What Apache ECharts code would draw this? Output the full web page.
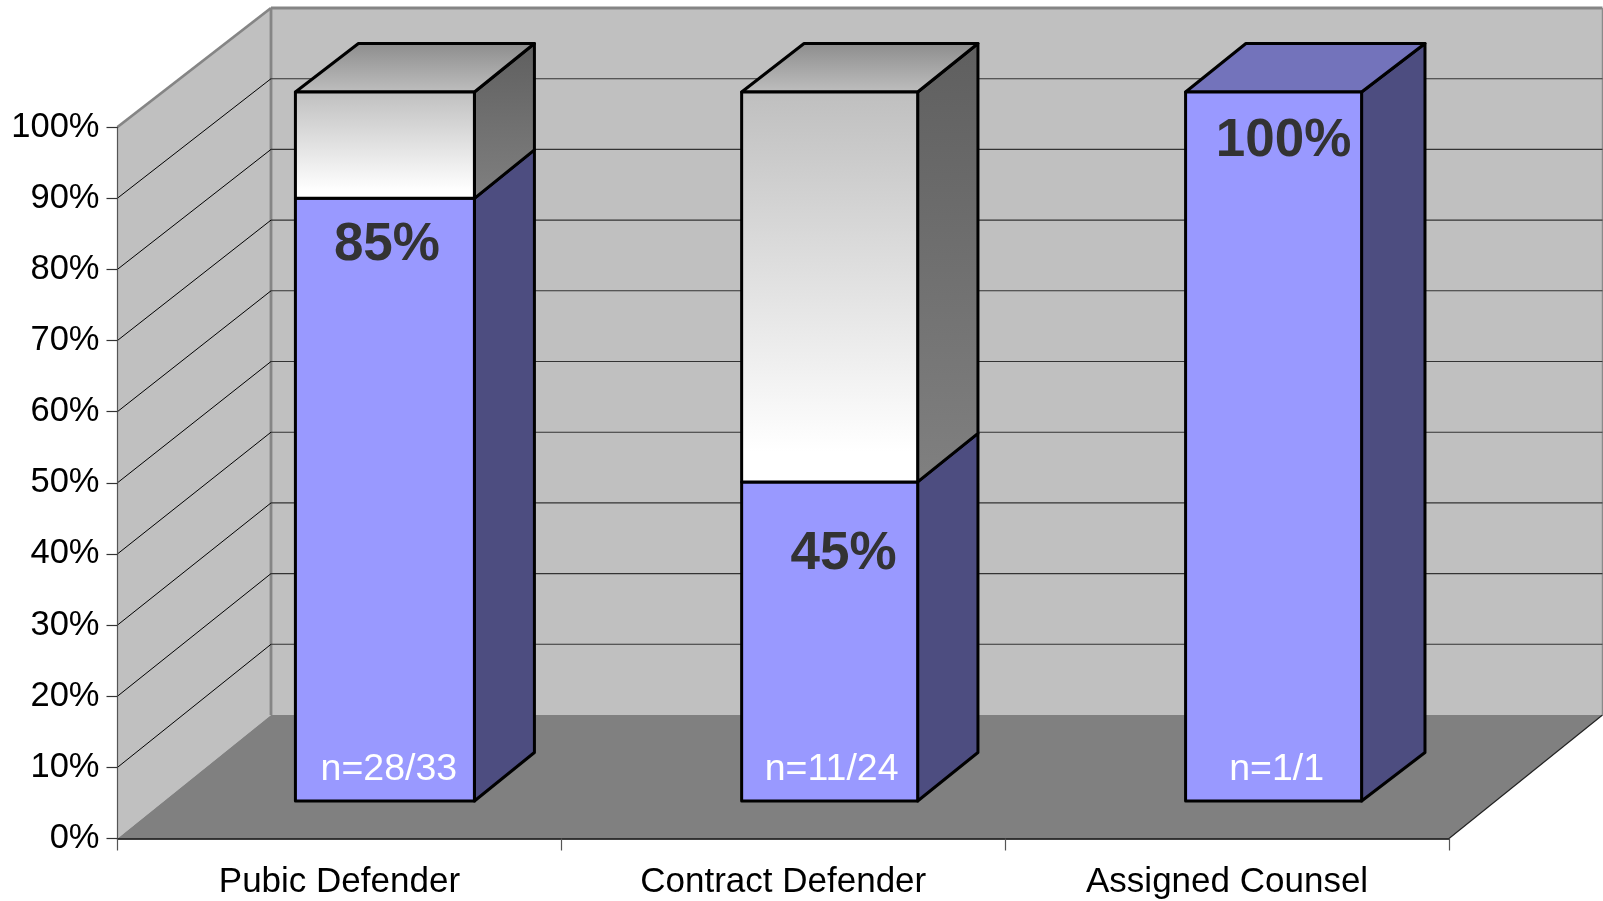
<!DOCTYPE html>
<html><head><meta charset="utf-8">
<style>html,body{margin:0;padding:0;background:#fff}#c{width:1603px;height:901px}</style>
<script src="https://cdn.jsdelivr.net/npm/echarts@6/dist/echarts.min.js"></script>
</head><body><div id="c"></div>
<script>
const categories = ['Pubic Defender', 'Contract Defender', 'Assigned Counsel'];
const metValues = [85, 45, 100];
const restValues = [15, 55, 0];
const percentLabels = ['85%', '45%', '100%'];
const countLabels = ['n=28/33', 'n=11/24', 'n=1/1'];
const gridValues = [10, 20, 30, 40, 50, 60, 70, 80, 90];

// Styling and 3D projection constants (pixels)
const FONT = '"Liberation Sans", Arial, sans-serif';
const WALL_DX = 153.5, WALL_DY = -123.5, WALL_SCALE = 707 / 711.5;
const BAR_DY = -48.5, BAR_LIFT = -37.5, BAR_SCALE = 709 / 711.5;
const BAR_LEFT = [-44, -41.6, -41.5], BAR_W = [179, 176, 176];
const BAR_BACK_L = [63, 62.4, 60.3], BAR_BACK_R = [60, 60.3, 63.4];
const PCT_OFF = [[2, 47.5], [14, 72.5], [10, 49.5]];
const CNT_OFF = [4, 2, 3];

const c = echarts.init(document.getElementById('c'));

function grad(stops) {
  return new echarts.graphic.LinearGradient(0, 0, 0, 1,
    stops.map(s => ({ offset: s[0], color: s[1] })));
}
function poly(points, fill, stroke, lw, z2) {
  return { type: 'polygon', shape: { points }, z2: z2 || 0,
    style: { fill: fill, stroke: stroke || null, lineWidth: lw || 0, lineJoin: 'round' } };
}
function seg(a, b, stroke, lw, z2) {
  return { type: 'line', shape: { x1: a[0], y1: a[1], x2: b[0], y2: b[1] }, z2: z2 || 0,
    style: { stroke, lineWidth: lw, fill: null } };
}
function barFace(api, i, lo, hi) {
  const y0 = api.coord([i, 0])[1];
  const ct = api.coord([i, 0])[0];
  const toY = v => y0 + BAR_LIFT + (api.coord([i, v])[1] - y0) * BAR_SCALE;
  const l = ct + BAR_LEFT[i], r = l + BAR_W[i];
  return { l, r, yLo: toY(lo), yHi: toY(hi) };
}
function renderSegment(fills, topIfFull) {
  return function (params, api) {
    const i = api.value(0), base = api.value(1), val = api.value(2);
    if (!val) return { type: 'group', children: [] };
    const b = barFace(api, i, base, base + val);
    const rb = b.r + BAR_BACK_R[i], lb = b.l + BAR_BACK_L[i];
    const ch = [];
    ch.push(poly([[b.r, b.yHi], [rb, b.yHi + BAR_DY], [rb, b.yLo + BAR_DY], [b.r, b.yLo]], fills.side, '#000', 3));
    if (topIfFull(base + val)) {
      ch.push(poly([[b.l, b.yHi], [b.r, b.yHi], [rb, b.yHi + BAR_DY], [lb, b.yHi + BAR_DY]], fills.top, '#000', 3));
    }
    ch.push(poly([[b.l, b.yLo], [b.r, b.yLo], [b.r, b.yHi], [b.l, b.yHi]], fills.front, '#000', 3));
    if (fills.labels) {
      const mid = b.l + BAR_W[i] / 2;
      ch.push({ type: 'text', z2: 5, x: mid + PCT_OFF[i][0], y: b.yHi + PCT_OFF[i][1], style: {
        text: percentLabels[i], fill: '#333333', font: 'bold 53px ' + FONT, align: 'center', verticalAlign: 'middle' } });
      ch.push({ type: 'text', z2: 5, x: mid + CNT_OFF[i], y: b.yLo - 31, style: {
        text: countLabels[i], fill: '#ffffff', font: '37.5px ' + FONT, align: 'center', verticalAlign: 'middle' } });
    }
    return { type: 'group', children: ch };
  };
}

c.setOption({
  animation: false,
  backgroundColor: '#ffffff',
  grid: { left: 117.5, right: 154, top: 127, bottom: 62.5, containLabel: false },
  xAxis: {
    type: 'category', data: categories, z: 5,
    axisLine: { show: true, lineStyle: { color: '#000', width: 1.5 } },
    axisTick: { show: true, alignWithLabel: false, length: 12, lineStyle: { color: '#555', width: 1.2 } },
    axisLabel: { color: '#000', fontFamily: 'Liberation Sans', fontSize: 35, margin: 26, interval: 0 },
    splitLine: { show: false }
  },
  yAxis: {
    type: 'value', min: 0, max: 100, interval: 10, z: 5,
    axisLine: { show: true, lineStyle: { color: '#555', width: 1.2 } },
    axisTick: { show: true, length: 11, lineStyle: { color: '#333', width: 1.2 } },
    axisLabel: { color: '#000', fontFamily: 'Liberation Sans', fontSize: 34.5, margin: 18, padding: [3, 0, 0, 0], formatter: '{value}%' },
    splitLine: { show: false }
  },
  series: [
    { // walls, floor
      type: 'custom', name: 'Walls', z: 1, silent: true, clip: false,
      data: [[0]],
      encode: { x: -1, y: -1 },
      renderItem(params, api) {
        const s = params.coordSys;
        const x0 = s.x, x1 = s.x + s.width, yB = s.y + s.height;
        const back = v => yB + WALL_DY + (api.coord([0, v])[1] - yB) * WALL_SCALE;
        const bx0 = x0 + WALL_DX, bx1 = x1 + WALL_DX;
        const children = [
          poly([[bx0, back(0)], [bx1, back(0)], [bx1, back(100)], [bx0, back(100)]], '#c0c0c0'),
          poly([[x0, yB], [bx0, back(0)], [bx0, back(100)], [x0, s.y]], '#c0c0c0'),
          poly([[x0, yB], [bx0, back(0)], [bx1, back(0)], [x1, yB]], '#808080'),
          seg([x1, yB], [bx1, back(0)], '#222', 1.2),
          seg([bx0, back(0)], [bx0, back(100)], '#858585', 2.8),
          seg([bx0, back(100)], [bx1, back(100)], '#858585', 2.8),
          seg([x0, s.y], [bx0, back(100)], '#858585', 2.8),
          seg([bx1, back(0)], [bx1, back(100)], '#8a8a8a', 1.5)
        ];
        gridValues.forEach(v => {
          const yf = api.coord([0, v])[1];
          children.push(seg([x0, yf], [bx0, back(v)], '#000', 1));
          children.push(seg([bx0, back(v)], [bx1, back(v)], '#333', 1.1));
        });
        return { type: 'group', children };
      }
    },
    {
      type: 'custom', name: 'Met', z: 3, clip: false,
      data: metValues.map((v, i) => [i, 0, v]),
      encode: { x: 0, y: 2 },
      renderItem: renderSegment({ front: '#9999ff', side: '#4d4d80', top: '#7373bb', labels: true }, t => t >= 100)
    },
    {
      type: 'custom', name: 'Not met', z: 4, clip: false,
      data: restValues.map((v, i) => [i, metValues[i], v]),
      encode: { x: 0, y: 2 },
      renderItem: renderSegment({
        front: grad([[0, '#bfbfbf'], [0.92, '#ffffff'], [1, '#ffffff']]),
        side: grad([[0, '#5f5f5f'], [1, '#808080']]),
        top: grad([[0, '#8c8c8c'], [1, '#bfbfbf']])
      }, t => t >= 100)
    }
  ]
});
</script></body></html>
